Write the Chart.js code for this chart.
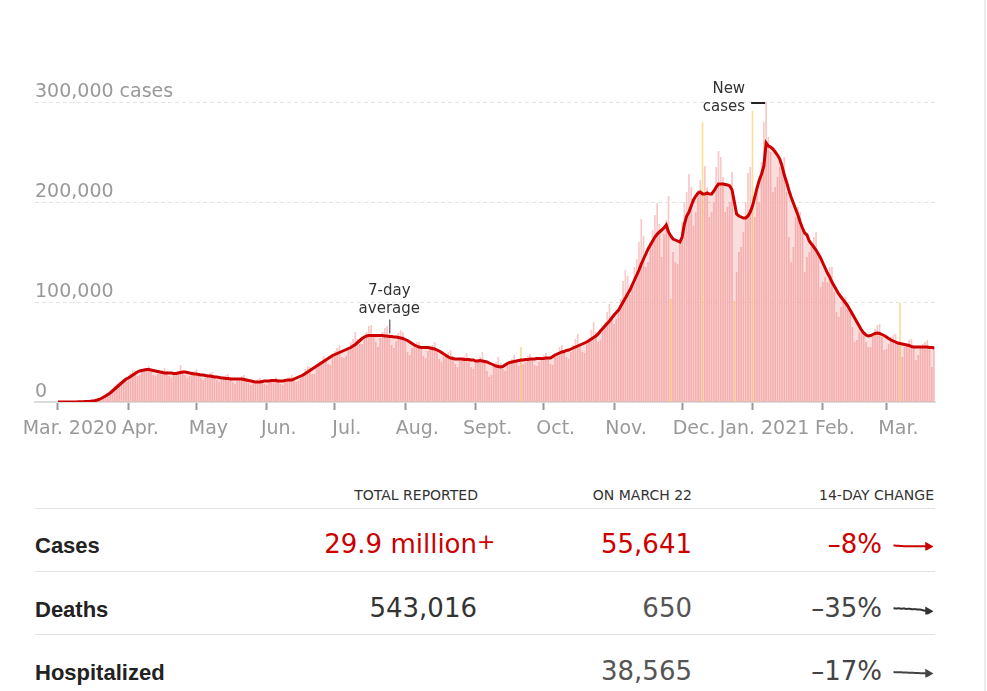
<!DOCTYPE html>
<html>
<head>
<meta charset="utf-8">
<script src="https://cdn.jsdelivr.net/npm/chart.js@4.4.1/dist/chart.umd.min.js"></script>
<style>
  body { margin: 0; background: #fff; width: 987px; height: 691px; overflow: hidden; position: relative; font-family: "DejaVu Sans", sans-serif; }
  #wrap { position: absolute; left: 0; top: 0; width: 987px; height: 450px; }
  #edge { position: absolute; left: 984px; top: 0; width: 2px; height: 691px; background: #ececec; }
  .hd { position: absolute; top: 487px; font-size: 14px; line-height: 16px; color: #333; white-space: nowrap; }
  .rule { position: absolute; left: 35px; width: 900px; height: 1px; background: #e2e2e2; }
  .lbl { position: absolute; left: 35px; font: bold 22px "Liberation Sans", Arial, sans-serif; line-height: 25px; color: #222; }
  .num { position: absolute; font-size: 26px; line-height: 30px; white-space: nowrap; }
  .spark { position: absolute; left: 888px; }
</style>
</head>
<body>
<div id="wrap"><canvas id="cases" width="987" height="450"></canvas></div>
<div id="edge"></div>
<div id="table"></div>

<script>
// daily new cases, in thousands, one row per week starting Sun. Mar. 1, 2020
const dailyCases = [
  0.01, 0.02, 0.03, 0.05, 0.06, 0.08, 0.1,
  0.12, 0.15, 0.2, 0.3, 0.4, 0.55, 0.7,
  0.8, 1.1, 1.5, 2.2, 3.3, 4.6, 6.2,
  7.5, 8.5, 10.5, 12.5, 16, 18.5, 19.5,
  19, 20, 24, 26, 29, 32, 31,
  26, 27, 30, 32, 34, 36, 31,
  27, 26, 28, 30, 32, 34, 31,
  26, 24, 27, 29, 31, 37, 31,
  27, 24, 26, 28, 31, 33, 29,
  24, 22, 24, 27, 29, 30, 27,
  22, 20, 22, 25, 27, 28, 25,
  20, 18, 21, 24, 26, 27, 24,
  19, 17, 19, 21, 23, 24, 22,
  18, 17, 19, 22, 23, 25, 23,
  18, 17, 20, 23, 25, 27, 25,
  20, 21, 25, 29, 33, 36, 35,
  28, 28, 34, 38, 41, 46, 43,
  38, 37, 46, 51, 54, 57, 45,
  44, 46, 55, 60, 63, 70, 63,
  58, 58, 64, 70, 76, 77, 66,
  60, 55, 64, 70, 74, 76, 68,
  57, 54, 61, 69, 72, 70, 62,
  50, 47, 54, 57, 60, 60, 53,
  46, 44, 51, 56, 57, 60, 52,
  43, 40, 45, 48, 50, 52, 46,
  38, 35, 41, 44, 46, 49, 43,
  35, 33, 40, 43, 45, 50, 42,
  31, 25, 27, 36, 40, 45, 39,
  33, 31, 37, 39, 43, 47, 42,
  36, 55, 38, 40, 46, 48, 42,
  37, 36, 40, 45, 47, 49, 44,
  38, 37, 45, 50, 55, 57, 49,
  45, 43, 50, 57, 63, 68, 55,
  50, 49, 58, 63, 72, 80, 70,
  60, 62, 75, 80, 90, 98, 86,
  78, 83, 92, 103, 121, 132, 126,
  107, 118, 135, 143, 160, 183, 166,
  135, 140, 160, 172, 187, 199, 178,
  145, 168, 182, 206, 103, 150, 140,
  138, 160, 180, 200, 210, 228, 215,
  176, 190, 212, 222, 280, 236, 215,
  185, 190, 200, 235, 251, 245, 225,
  190, 195, 200, 230, 101, 130, 150,
  155, 170, 200, 229, 235, 291, 185,
  210, 200, 240, 280, 300, 265, 250,
  210, 215, 225, 235, 240, 245, 210,
  165, 140, 155, 185, 195, 190, 175,
  130, 145, 150, 155, 165, 170, 145,
  115, 120, 125, 120, 135, 135, 110,
  90, 85, 95, 100, 105, 100, 90,
  75, 60, 62, 70, 72, 70, 60,
  55, 55, 68, 73, 77, 78, 65,
  52, 53, 58, 65, 67, 68, 60,
  99, 45, 55, 58, 62, 63, 55,
  42, 47, 55, 58, 60, 62, 55,
  35, 55.6
];

// 7-day average, in thousands, same rows
const sevenDayAvg = [
  0, 0, 0, 0, 0, 0, 0,
  0.1, 0.1, 0.2, 0.2, 0.3, 0.4, 0.5,
  0.6, 1, 1.3, 1.8, 2.5, 3.5, 4.7,
  6, 7.5, 9, 11, 13, 15, 17,
  19, 21, 23, 24, 25.5, 27, 28.5,
  30, 31, 31.5, 32, 32.5, 32.5, 32,
  31.5, 31, 30.5, 30, 29.5, 29, 29,
  29, 29, 28.5, 28.5, 29, 29.5, 30,
  30, 29.5, 29, 28.5, 28, 28, 27.5,
  27, 27, 26.5, 26, 26, 25.5, 25,
  25, 24.5, 24, 24, 23.5, 23.5, 23,
  23, 23, 23, 23, 23, 22.5, 22,
  21.5, 21, 20.5, 20, 20, 20, 20.5,
  21, 21, 21, 21.5, 21.5, 21.5, 21,
  21, 21, 21.5, 22, 22, 22, 23,
  24, 25, 26, 27, 28.5, 30, 31.5,
  33, 34.5, 36, 37.5, 39, 40.5, 42,
  43.5, 45, 46.5, 47.5, 48.5, 49.5, 50.5,
  51.5, 52.5, 53.5, 54.5, 56, 57.5, 59.5,
  61.5, 63.5, 65, 66, 66.5, 66.5, 66.5,
  66.5, 66.5, 66.5, 66.5, 66, 66, 65.5,
  65.5, 65, 65, 64.5, 64, 63.5, 62.5,
  61.5, 60, 58.5, 57, 56, 55, 54.5,
  54.5, 54.5, 54.5, 54, 53.5, 53, 52,
  51, 49.5, 48, 46.5, 45, 44, 43.5,
  43, 43, 43, 43, 42.5, 42.5, 42.5,
  42, 42, 41, 41, 41.5, 41, 40.5,
  40, 39, 38, 37, 36, 35.5, 35,
  35.5, 37, 38.5, 39.5, 40, 40.5, 41,
  41.5, 42, 42, 42.5, 42.5, 43, 43,
  43, 43.5, 43.5, 43.5, 43.5, 44, 44,
  44, 45.5, 47, 48, 49, 50, 50.5,
  51.5, 52, 53, 54, 55, 56, 57,
  58, 59, 60, 61.5, 63, 64.5, 66,
  68, 71, 73.5, 76, 78.5, 81, 84,
  87, 89.5, 92, 96, 100, 104, 108,
  112, 117, 122, 127, 132, 138, 143,
  148, 153, 157, 161, 165, 168, 170,
  172, 174, 177, 170, 166, 163, 162,
  161, 160, 165, 178, 186, 190, 196,
  202, 206, 209, 210, 208, 208, 209,
  208, 208, 211, 215, 218, 218, 218,
  217.5, 217, 216, 212, 200, 188, 186,
  185, 184, 184, 186, 190, 196, 205,
  214, 222, 228, 236, 259, 256, 255,
  253, 250, 247, 243, 236, 227, 220,
  212, 205, 199, 193, 187, 180, 174,
  169, 167, 161, 158, 155, 152, 148,
  144, 139, 134, 129, 125, 120, 116,
  112, 108, 105, 102, 99, 96, 92,
  88, 84, 80, 76, 72, 69, 67,
  66, 66.5, 67.5, 68.5, 69, 68.5, 67.5,
  66.5, 65, 63.5, 62, 61, 60, 59,
  58.5, 58, 57.5, 57, 56.5, 55.5, 55,
  55, 55, 55, 55, 55, 55, 54.5,
  54.5, 54
];

// days drawn in yellow (reporting anomalies)
const flaggedDays = [204, 270, 284, 298, 306, 371];

const monthStarts = [0, 31, 61, 92, 122, 153, 184, 214, 245, 275, 306, 337, 365];
const monthLabels = ['Mar. 2020', 'Apr.', 'May', 'Jun.', 'Jul.', 'Aug.', 'Sept.', 'Oct.', 'Nov.', 'Dec.', 'Jan. 2021', 'Feb.', 'Mar.'];
const yTicks = [0, 100, 200, 300];
const yTickLabels = ['0', '100,000', '200,000', '300,000 cases'];

// where the two notes point
const avgNoteDay = 146;
const casesNoteDay = 312;

// table below the chart
const rowLabels = ['Cases', 'Deaths', 'Hospitalized'];
const totalReported = ['29.9 million', '543,016', ''];
const onMarch22 = ['55,641', '650', '38,565'];
const change14 = ['–8%', '–35%', '–17%'];
const casesTrend = sevenDayAvg.slice(-14);
const deathsTrend = [1650, 1600, 1630, 1560, 1590, 1520, 1540, 1470, 1480, 1400, 1390, 1290, 1180, 1070];
const hospTrend = [46500, 46000, 45600, 45000, 44200, 43600, 43000, 42300, 41700, 41000, 40300, 39800, 39200, 38565];

const days = dailyCases.map((v, i) => i);
const axisFont = { family: 'DejaVu Sans', size: 19 };

// text notes on the chart
const notes = {
  id: 'notes',
  afterDatasetsDraw(chart) {
    const { ctx, scales: { x, y } } = chart;
    ctx.save();
    ctx.fillStyle = '#333';
    ctx.strokeStyle = '#333';
    ctx.font = '15px "DejaVu Sans"';
    ctx.textBaseline = 'middle';

    const ax = x.getPixelForValue(avgNoteDay);
    const ay = y.getPixelForValue(sevenDayAvg[avgNoteDay]);
    ctx.textAlign = 'center';
    ctx.fillText('7-day', ax, ay - 45);
    ctx.fillText('average', ax, ay - 27);
    ctx.lineWidth = 1;
    ctx.beginPath();
    ctx.moveTo(ax + 0.5, ay - 17);
    ctx.lineTo(ax + 0.5, ay - 3);
    ctx.stroke();

    const bx = x.getPixelForValue(casesNoteDay);
    const by = y.getPixelForValue(dailyCases[casesNoteDay]);
    ctx.textAlign = 'right';
    ctx.fillText('New', bx - 21, by - 13);
    ctx.fillText('cases', bx - 21, by + 5);
    ctx.lineWidth = 2;
    ctx.strokeStyle = '#222';
    ctx.beginPath();
    ctx.moveTo(bx - 15, by + 1);
    ctx.lineTo(bx - 1, by + 1);
    ctx.stroke();
    ctx.restore();
  }
};

const casesChart = new Chart(document.getElementById('cases'), {
  type: 'bar',
  data: {
    labels: days,
    datasets: [
      {
        type: 'line',
        label: '7-day average',
        data: sevenDayAvg,
        borderColor: '#cc0000',
        borderWidth: 3,
        pointRadius: 0,
        tension: 0,
        fill: 'origin',
        backgroundColor: 'rgba(225,50,50,0.16)',
        order: 0
      },
      {
        label: 'New cases',
        data: dailyCases,
        backgroundColor: ctx => flaggedDays.includes(ctx.dataIndex) ? 'rgb(253,222,155)' : 'rgb(249,200,200)',
        barPercentage: 0.75,
        categoryPercentage: 1,
        order: 1
      }
    ]
  },
  options: {
    responsive: false,
    animation: false,
    events: [],
    layout: { padding: { left: 35, right: 52, top: 102, bottom: 8 } },
    plugins: { legend: { display: false }, tooltip: { enabled: false } },
    scales: {
      x: {
        type: 'linear',
        min: -10.1,
        max: 386.4,
        offset: false,
        afterBuildTicks: s => { s.ticks = monthStarts.map(v => ({ value: v })); },
        afterFit: s => { s.height = 40; },
        ticks: {
          autoSkip: false,
          maxRotation: 0,
          padding: 8,
          labelOffset: 12,
          color: '#999',
          font: axisFont,
          callback: (v, i) => monthLabels[i]
        },
        grid: { drawOnChartArea: false, drawTicks: true, tickLength: 8, tickColor: '#999', tickWidth: 2, offset: false },
        border: { display: true, color: '#dcdcdc', width: 2 }
      },
      y: {
        min: 0,
        max: 300,
        afterBuildTicks: s => { s.ticks = yTicks.map(v => ({ value: v })); },
        afterFit: s => { s.width = 0; },
        ticks: {
          mirror: true,
          padding: 0,
          labelOffset: -10,
          color: '#999',
          font: axisFont,
          callback: (v, i) => yTickLabels[i]
        },
        grid: { color: c => c.tick.value === 0 ? 'rgba(0,0,0,0)' : '#e3e3e3', lineWidth: 1, drawTicks: false },
        border: { display: false, dash: [4, 3] }
      }
    }
  },
  plugins: [notes]
});

// ---- table ----
const table = document.getElementById('table');
function addEl(cls, text, style) {
  const d = document.createElement('div');
  d.className = cls;
  d.textContent = text;
  Object.assign(d.style, style);
  table.appendChild(d);
  return d;
}

addEl('hd', 'TOTAL REPORTED', { right: (987 - 478) + 'px' });
addEl('hd', 'ON MARCH 22', { right: (987 - 692) + 'px' });
addEl('hd', '14-DAY CHANGE', { right: (987 - 934) + 'px' });

const ruleY = [508, 571, 634];
ruleY.forEach(y => addEl('rule', '', { top: y + 'px' }));

const rowTop = [529, 593, 656];
const trends = [casesTrend, deathsTrend, hospTrend];
const trendRange = [[38, 73.5], [490, 2147], [14760, 67660]];
const colors = ['#cc0000', '#333', '#444'];

rowLabels.forEach((name, i) => {
  const top = rowTop[i];
  addEl('lbl', name, { top: (top + 4) + 'px' });
  const red = i === 0;
  if (totalReported[i]) {
    addEl('num', totalReported[i], { right: (987 - 477) + 'px', top: top + 'px', color: red ? '#cc0000' : '#333' });
  }
  addEl('num', onMarch22[i], { right: (987 - 692) + 'px', top: top + 'px', color: red ? '#cc0000' : '#555' });
  addEl('num', change14[i], { right: (987 - 882) + 'px', top: top + 'px', color: red ? '#cc0000' : '#444' });

  const c = document.createElement('canvas');
  c.className = 'spark';
  c.width = 48; c.height = 20;
  c.style.top = (top + 7) + 'px';
  table.appendChild(c);
  const vals = trends[i];
  new Chart(c, {
    type: 'line',
    data: {
      labels: vals.map((v, k) => k),
      datasets: [{
        data: vals,
        borderColor: colors[i],
        borderWidth: 2,
        tension: 0.2,
        pointRadius: ctx => ctx.dataIndex === vals.length - 1 ? 5.5 : 0,
        pointStyle: 'triangle',
        pointRotation: 90,
        pointBackgroundColor: colors[i],
        pointBorderWidth: 0
      }]
    },
    options: {
      responsive: false,
      animation: false,
      events: [],
      layout: { padding: { left: 2, right: 8 } },
      plugins: { legend: { display: false }, tooltip: { enabled: false } },
      scales: { x: { display: false }, y: { display: false, min: trendRange[i][0], max: trendRange[i][1] } }
    }
  });
});

// the "+" after the cases total
addEl('num', '+', { left: '477px', top: '527px', fontSize: '22px', color: '#cc0000' });
</script>
</body>
</html>
